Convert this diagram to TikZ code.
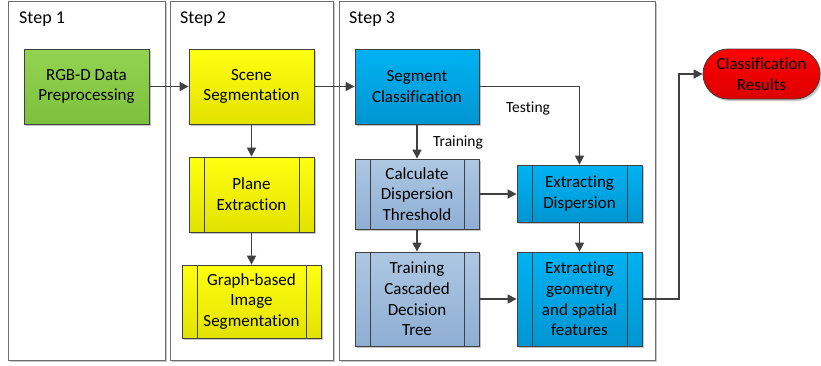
\documentclass[tikz,border=0pt]{standalone}
\usepackage{fontspec}
\setmainfont{Carlito}[Ligatures=NoCommon]
\usetikzlibrary{shadows,arrows.meta,shapes.misc}
\definecolor{linecol}{HTML}{404040}
\definecolor{lanecol}{HTML}{6E6E6E}
\definecolor{greenT}{HTML}{94D352}
\definecolor{greenB}{HTML}{7CC03E}
\definecolor{yelT}{HTML}{FFFF10}
\definecolor{yelB}{HTML}{E2E200}
\definecolor{blueT}{HTML}{00B2F2}
\definecolor{blueB}{HTML}{0096D2}
\definecolor{lbT}{HTML}{AEC8E3}
\definecolor{lbB}{HTML}{8EAED3}
\definecolor{redT}{HTML}{FF0000}
\definecolor{redB}{HTML}{DC0000}
\begin{document}
\begin{tikzpicture}[x=1pt,y=-1pt,
  lane/.style={draw=lanecol,line width=1pt,fill=white,
    drop shadow={shadow xshift=2pt,shadow yshift=-2pt,fill=gray!45,opacity=1}},
  steplbl/.style={font=\fontsize{18}{21}\selectfont,anchor=west,inner sep=0pt},
  box/.style={draw=linecol,line width=0.8pt,align=center,inner sep=2pt,
    font=\fontsize{17}{20.7}\selectfont,
    drop shadow={shadow xshift=2pt,shadow yshift=-2pt,fill=gray!45,opacity=1}},
  proc/.style={box,path picture={
     \draw[linecol,line width=0.8pt]
       ([xshift=15pt]path picture bounding box.north west) -- ([xshift=15pt]path picture bounding box.south west)
       ([xshift=-15pt]path picture bounding box.north east) -- ([xshift=-15pt]path picture bounding box.south east);}},
  green/.style={top color=greenT,bottom color=greenB},
  yel/.style={top color=yelT,bottom color=yelB},
  blu/.style={top color=blueT,bottom color=blueB},
  lbl/.style={top color=lbT,bottom color=lbB},
  arr/.style={draw=linecol,line width=1.4pt,-{Triangle[length=9pt,width=9pt]}},
  elbl/.style={font=\fontsize{15.5}{18}\selectfont,inner sep=0pt}]
\useasboundingbox (0,0) rectangle (821,365);
% lanes
\node[lane,minimum width=157pt,minimum height=359pt,inner sep=0pt] (lane1) at (86.5,180.5) {};
\node[lane,minimum width=163pt,minimum height=359pt,inner sep=0pt] (lane2) at (251.5,180.5) {};
\node[lane,minimum width=316pt,minimum height=359pt,inner sep=0pt] (lane3) at (497,180.5) {};
\node[steplbl] (s1) at (19,19) {Step 1};
\node[steplbl] (s2) at (180,19) {Step 2};
\node[steplbl] (s3) at (349,19) {Step 3};
% boxes
\node[box,green,minimum width=125pt,minimum height=75pt] (rgb) at (86.5,86.5) {RGB-D Data\\Preprocessing};
\node[box,yel,minimum width=125pt,minimum height=75pt] (scene) at (251.5,86.5) {Scene\\Segmentation};
\node[proc,yel,minimum width=125pt,minimum height=75pt] (plane) at (251.5,194.5) {Plane\\Extraction};
\node[proc,yel,minimum width=139pt,minimum height=73pt] (graph) at (251.5,301.5) {Graph-based\\Image\\Segmentation};
\node[box,blu,minimum width=124pt,minimum height=75pt] (seg) at (417,86.5) {Segment\\Classification};
\node[proc,lbl,minimum width=124pt,minimum height=70pt] (calc) at (417,194) {Calculate\\Dispersion\\Threshold};
\node[proc,lbl,minimum width=124pt,minimum height=94pt] (train) at (417,299) {Training\\Cascaded\\Decision\\Tree};
\node[proc,blu,minimum width=125pt,minimum height=57pt] (disp) at (579.5,193.5) {Extracting\\Dispersion};
\node[proc,blu,minimum width=125pt,minimum height=94pt] (geo) at (579.5,299) {Extracting\\geometry\\and spatial\\features};
\node[box,rounded rectangle,top color=redT,bottom color=redB,minimum width=117pt,minimum height=50pt,inner sep=0pt] (res) at (761.5,74) {Classification\\Results};
% connectors
\draw[arr] (rgb) -- (scene);
\draw[arr] (scene) -- (seg);
\draw[arr] (scene) -- (plane);
\draw[arr] (plane) -- (graph);
\draw[arr] (seg) -- (calc);
\draw[arr] (seg.east) -| (disp.north);
\draw[arr] (calc.east) -- (calc.east -| disp.west);
\draw[arr] (calc) -- (train);
\draw[arr] (disp) -- (geo);
\draw[arr] (train) -- (geo);
\coordinate (bend) at (679,299);
\draw[arr] (geo.east) -- (bend) |- (res.west);
\node[elbl] (ltrain) at (458,142) {Training};
\node[elbl] (ltest) at (528,108) {Testing};
\end{tikzpicture}
\end{document}
